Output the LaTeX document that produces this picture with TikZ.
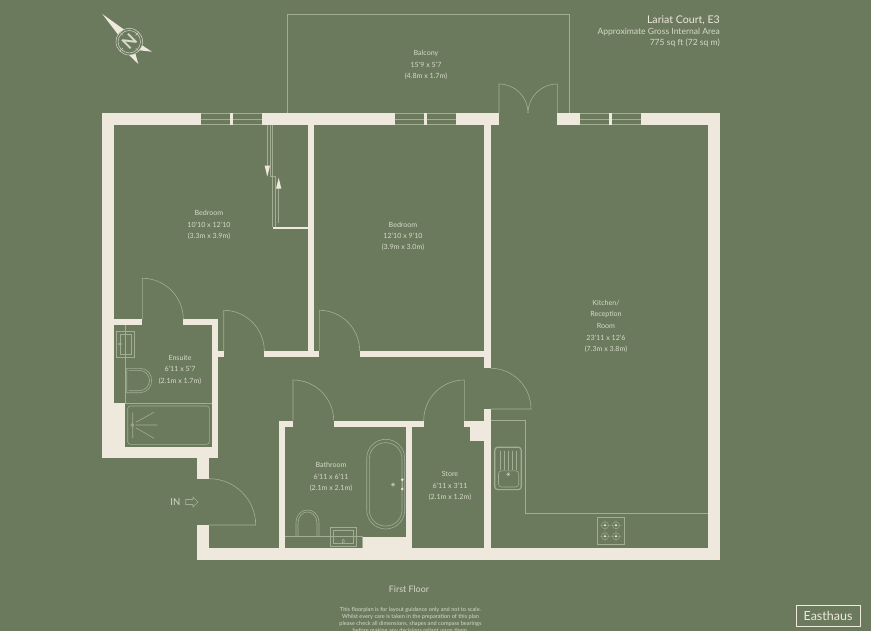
\documentclass[tikz,border=0pt]{standalone}
\usepackage{fontspec}
\setmainfont{Lato}
\definecolor{bg}{HTML}{6B7A5D}
\definecolor{wallc}{HTML}{EEE8DD}
\definecolor{linec}{HTML}{A3AD94}
\definecolor{txt}{HTML}{D6D8C9}
\newcommand{\wallbox}[4]{\fill[wallc] (#1,#2) rectangle (#3,#4);}
\newcommand{\doorleaf}[6]{%
 \pgfmathsetmacro{\cax}{#3+.5523*(#5-#1)}\pgfmathsetmacro{\cay}{#4+.5523*(#6-#2)}%
 \pgfmathsetmacro{\cbx}{#5+.5523*(#3-#1)}\pgfmathsetmacro{\cby}{#6+.5523*(#4-#2)}%
 \draw[thinline] (#1,#2) -- (#3,#4) .. controls (\cax,\cay) and (\cbx,\cby) .. (#5,#6);}
\newcommand{\winframe}[3]{%
 \draw[thinline] (#1,113.4) -- (#3,113.4) (#1,119) -- (#3,119) (#1,124.6) -- (#3,124.6);
 \wallbox{#2}{113}{#2+3}{125}}
\newcommand{\burner}[2]{%
 \draw[thinline,line width=.35pt] (#1,#2) circle (3.6) (#1-5.5,#2) -- (#1+5.5,#2) (#1,#2-5.5) -- (#1,#2+5.5);
 \fill[wallc] (#1,#2) circle (1.1);}
\tikzset{
 thinline/.style={draw=linec,line width=.6pt},
 lab/.style={text=txt,font=\fontsize{7.1}{9}\selectfont,inner sep=0pt,align=center},
 head/.style={text=txt,inner sep=0pt,anchor=east},
 foot/.style={text=txt,font=\fontsize{5.6}{6}\selectfont,inner sep=0pt}
}
\begin{document}
\begin{tikzpicture}[x=1pt,y=-1pt]
\useasboundingbox (0,0) rectangle (871,631);
\clip (0,0) rectangle (871,631);
\fill[bg] (0,0) rectangle (871,631);
% balcony
\draw[thinline] (287.5,113) -- (287.5,14.5) -- (569,14.5) -- (569,113);
% outer and inner walls
\wallbox{102}{113}{200.5}{125}
\wallbox{261.5}{113}{395}{125}
\wallbox{455.7}{113}{499}{125}
\wallbox{557.3}{113}{580}{125}
\wallbox{641.3}{113}{719.7}{125}
\wallbox{102}{113}{113.7}{458.3}
\wallbox{707.7}{113}{719.7}{560}
\wallbox{307.5}{125}{313.7}{357.2}
\wallbox{484.3}{125}{490.7}{368.3}
\wallbox{484.3}{409}{490.7}{548.3}
\wallbox{272.7}{226.7}{307.5}{229.3}
\wallbox{113.7}{319.3}{142.3}{325.3}
\wallbox{183.3}{319.3}{218.3}{325.3}
\wallbox{212}{319.3}{218.3}{452.7}
\wallbox{218.3}{351}{223.7}{357.2}
\wallbox{264.3}{351}{319.3}{357.2}
\wallbox{359.7}{351}{484.3}{357.2}
\wallbox{113.7}{403.3}{125.3}{446.7}
\wallbox{102}{446.7}{212}{458.3}
\wallbox{197.3}{452.7}{218.3}{458.3}
\wallbox{197.3}{458.3}{209}{478.7}
\wallbox{197.3}{525}{209}{560}
\wallbox{197.3}{548.3}{719.7}{560}
\wallbox{278.7}{420.7}{293}{426.7}
\wallbox{278.7}{420.7}{285}{548.3}
\wallbox{333.7}{420.7}{423.7}{426.7}
\wallbox{406.3}{420.7}{412.3}{548.3}
\wallbox{362.7}{536.7}{406.3}{548.3}
\wallbox{464.3}{420.7}{484.3}{426.7}
\wallbox{470}{426.7}{484.3}{440.7}
% windows
\winframe{200.5}{229.5}{261.5}
\winframe{395}{424}{455.7}
\winframe{580}{609}{641.3}
% doors
\doorleaf{142.3}{319.3}{142.3}{278.3}{183.3}{319.3}
\doorleaf{223.7}{351}{223.7}{310.3}{264.3}{351}
\doorleaf{319.3}{351}{319.3}{310.3}{359.7}{351}
\doorleaf{490.7}{409}{531}{409}{490.7}{368.3}
\doorleaf{293}{420.7}{293}{380}{333.7}{420.7}
\doorleaf{464.3}{420.7}{464.3}{380}{423.7}{420.7}
\doorleaf{209}{525}{255.7}{525}{209}{478.7}
\doorleaf{499}{113}{499}{84}{528}{113}
\doorleaf{557.3}{113}{557.3}{84}{528}{113}
% wardrobe sliding doors
\draw[thinline] (267,125) -- (267,172) (270,125) -- (270,176.7) -- (275.7,176.7) -- (275.7,226.7)
 (272.7,125) -- (272.7,226.7) (278.7,186) -- (278.7,223.5);
\fill[wallc] (264.7,165.7) -- (270,165.7) -- (267.3,176.7) -- cycle;
\fill[wallc] (276,188.7) -- (281.3,188.7) -- (278.7,177.7) -- cycle;
% ensuite fittings
\draw[thinline] (125.3,325.3) -- (125.3,403.3) (125.3,403.3) -- (212,403.3);
\draw[thinline,rounded corners=2.5pt] (127.7,406) rectangle (209.3,444.3);
\draw[thinline] (132.3,425) circle (1.6) (132.7,412.7) -- (132.7,438)
 (135.7,422.3) -- (154,412.3) (135.7,425) -- (157.3,425) (135.7,427.7) -- (154,438.3);
\draw[thinline] (116,331.7) rectangle (134.7,357.3) (120,334.3) rectangle (131.7,354.3);
\draw[thinline] (120,344) ellipse (1.8 and 1);
\draw[thinline] (126.7,368.3) -- (140,368.3) .. controls (147,368.3) and (151.7,374) .. (151.7,380.5)
 .. controls (151.7,387) and (147,392.7) .. (140,392.7) -- (126.7,392.7) -- cycle;
\draw[thinline] (128.7,370.3) -- (139.5,370.3) .. controls (145,370.3) and (149.5,375) .. (149.5,380.5)
 .. controls (149.5,386) and (145,390.7) .. (139.5,390.7) -- (128.7,390.7);
% bathroom fittings
\draw[thinline] (285,536.7) -- (362.7,536.7) (362.7,536.7) -- (362.7,548.3);
\draw[thinline,rounded corners=19pt] (366.7,439.3) rectangle (404.7,529);
\draw[thinline,rounded corners=16pt] (369.3,442.7) rectangle (402,526);
\draw[thinline] (393,484.7) circle (1.8);
\fill[wallc] (393,484.7) circle (.9);
\draw[thinline] (402.3,479.7) -- (402.3,489);
\fill[wallc] (402.3,479.7) circle (1.4) (402.3,489) circle (1.4);
\draw[thinline] (294.5,536.2) -- (320.5,536.2);
\draw[thinline] (296,536) -- (296,523) .. controls (296,514) and (302,510) .. (307.5,510)
 .. controls (313,510) and (319,514) .. (319,523) -- (319,536);
\draw[thinline] (298,536) -- (298,523) .. controls (298,516) and (303,512) .. (307.5,512)
 .. controls (312,512) and (317,516) .. (317,523) -- (317,536);
\draw[thinline] (330.3,527) rectangle (356.3,546) (333.3,530) rectangle (353.3,543.3);
\draw[thinline] (343.3,541.3) ellipse (1 and 2);
% kitchen fittings
\draw[thinline] (490.7,420.3) -- (525.3,420.3) -- (525.3,513.3) -- (707.7,513.3);
\draw[thinline,line width=1.2pt,rounded corners=3pt] (494.8,447.2) rectangle (521.3,489.6);
\draw[thinline,rounded corners=3pt] (498.5,470.8) rectangle (518.7,487);
\foreach \xx in {500,504,508,512,516} \draw[thinline,line width=.4pt] (\xx,450.7) -- (\xx,470);
\draw[thinline] (508.3,474.3) circle (1.7);
\fill[wallc] (508.3,474.3) circle (.8);
\draw[thinline,line width=1pt] (597.5,517.5) rectangle (624.5,544.5);
\burner{605}{525.3}\burner{616}{525.3}\burner{605}{536.3}\burner{616}{536.3}
% compass
\fill[wallc] (102.3,14) -- (126,31) -- (119.5,36.5) -- cycle;
\fill[wallc] (152,51.7) -- (140,44) -- (137,50) -- cycle;
\fill[wallc] (138.3,64) -- (134.5,50.5) -- (129,55) -- cycle;
\fill[bg] (129.3,41.7) circle (13.3);
\draw[draw=txt,line width=.5pt] (129.3,41.7) circle (13.3) (129.3,41.7) circle (11.2);
\draw[draw=txt,line width=.5pt] (120,32.4) -- (123,35.4) (135.6,48) -- (138.6,51) (120,51) -- (123,48) (135.6,35.4) -- (138.6,32.4);
\node[text=txt,inner sep=0pt,rotate=45,font=\fontsize{17}{17}\selectfont\bfseries] (compassN) at (129.3,41.7) {N};
% labels
\node[head,font=\fontsize{10.6}{12}\selectfont,text=wallc] (title) at (720,20) {Lariat Court, E3};
\node[head,font=\fontsize{8.55}{10}\selectfont] (area) at (720,32) {Approximate Gross Internal Area};
\node[head,font=\fontsize{8.55}{10}\selectfont] (sqft) at (720,43) {775 sq ft (72 sq m)};
\node[lab] (balconyA) at (426,53) {Balcony};
\node[lab] (balconyB) at (426,64.5) {15'9 x 5'7};
\node[lab] (balconyC) at (426,76.2) {(4.8m x 1.7m)};
\node[lab] (bedA) at (209,212.5) {Bedroom};
\node[lab] (bedB) at (209,224.5) {10'10 x 12'10};
\node[lab] (bedC) at (209,236) {(3.3m x 3.9m)};
\node[lab] (bed2A) at (403,224.5) {Bedroom};
\node[lab] (bed2B) at (403,236.2) {12'10 x 9'10};
\node[lab] (bed2C) at (403,247.5) {(3.9m x 3.0m)};
\node[lab] (kitA) at (606,303) {Kitchen/};
\node[lab] (kitB) at (606,314.5) {Reception};
\node[lab] (kitC) at (606,326) {Room};
\node[lab] (kitD) at (606,337.5) {23'11 x 12'6};
\node[lab] (kitE) at (606,349.5) {(7.3m x 3.8m)};
\node[lab] (ensA) at (180,357.5) {Ensuite};
\node[lab] (ensB) at (180,369.2) {6'11 x 5'7};
\node[lab] (ensC) at (180,380.8) {(2.1m x 1.7m)};
\node[lab] (bathA) at (331,465) {Bathroom};
\node[lab] (bathB) at (331,476.8) {6'11 x 6'11};
\node[lab] (bathC) at (331,488.3) {(2.1m x 2.1m)};
\node[lab] (storeA) at (450,473.8) {Store};
\node[lab] (storeB) at (450,485.5) {6'11 x 3'11};
\node[lab] (storeC) at (450,497) {(2.1m x 1.2m)};
\node[lab,font=\fontsize{9.5}{10}\selectfont] (inlab) at (175.3,502) {IN};
\draw[thinline] (185.7,499.5) -- (193,499.5) -- (193,497) -- (198,502) -- (193,507) -- (193,504.5) -- (185.7,504.5) -- cycle;
\node[lab,font=\fontsize{8.9}{10}\selectfont] (floor) at (409,589) {First Floor};
\node[foot] (f1) at (410.5,610) {This floorplan is for layout guidance only and not to scale.};
\node[foot] (f2) at (410.5,617) {Whilst every care is taken in the preparation of this plan};
\node[foot] (f3) at (410.5,624) {please check all dimensions, shapes and compass bearings};
\node[foot] (f4) at (410.5,631) {before making any decisions reliant upon them.};
\node[draw=wallc,line width=1pt,minimum width=64pt,minimum height=21pt,inner sep=0pt,text=wallc,font=\fontsize{12.5}{13}\selectfont] (logo) at (828,616) {Easthaus};
\end{tikzpicture}
\end{document}
